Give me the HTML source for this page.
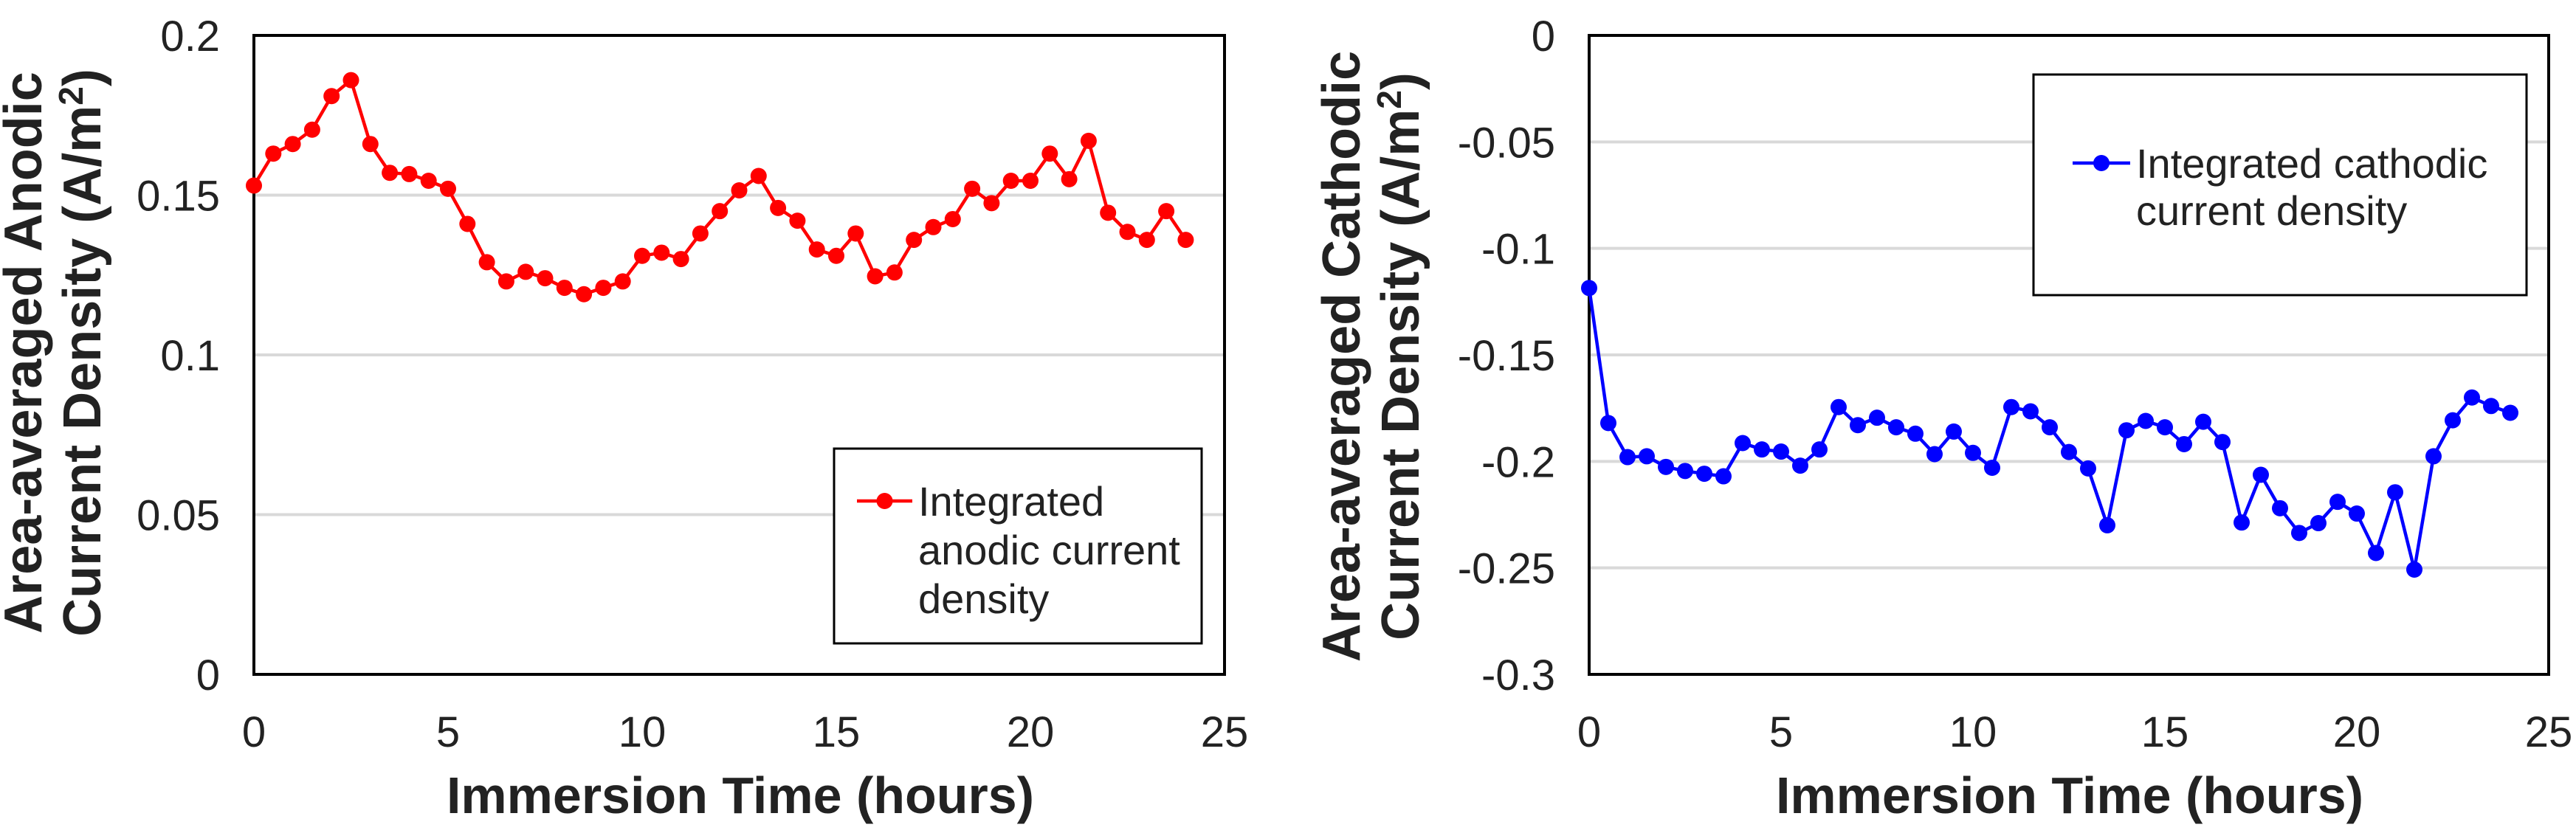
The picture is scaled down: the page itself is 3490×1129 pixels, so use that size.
<!DOCTYPE html>
<html><head><meta charset="utf-8"><style>
html,body{margin:0;padding:0;background:#fff;}
svg{display:block;font-family:"Liberation Sans",Arial,sans-serif;}
</style></head><body>
<svg id="c" width="3490" height="1129" viewBox="0 0 3490 1129" xmlns="http://www.w3.org/2000/svg"></svg>
<script>
const hours = [0,0.5,1,1.5,2,2.5,3,3.5,4,4.5,5,5.5,6,6.5,7,7.5,8,8.5,9,9.5,10,10.5,11,11.5,12,12.5,13,13.5,14,14.5,15,15.5,16,16.5,17,17.5,18,18.5,19,19.5,20,20.5,21,21.5,22,22.5,23,23.5,24];
const anodic = [0.153,0.163,0.166,0.1705,0.181,0.186,0.166,0.157,0.1566,0.1545,0.152,0.141,0.129,0.123,0.126,0.124,0.121,0.119,0.121,0.123,0.131,0.132,0.130,0.138,0.145,0.1515,0.156,0.146,0.142,0.133,0.131,0.138,0.1246,0.1258,0.136,0.140,0.1425,0.152,0.1475,0.1545,0.1545,0.163,0.155,0.167,0.1445,0.1385,0.136,0.145,0.136];
const cathodic = [-0.1186,-0.182,-0.198,-0.1976,-0.2026,-0.2045,-0.2058,-0.207,-0.1914,-0.1944,-0.1954,-0.202,-0.1944,-0.1745,-0.183,-0.1795,-0.184,-0.187,-0.1966,-0.186,-0.196,-0.203,-0.1745,-0.1765,-0.184,-0.1956,-0.2033,-0.230,-0.1854,-0.181,-0.184,-0.1919,-0.1814,-0.1909,-0.2287,-0.2063,-0.222,-0.2336,-0.229,-0.219,-0.2245,-0.243,-0.2145,-0.2508,-0.1976,-0.1807,-0.170,-0.174,-0.1772];
const xTicks = [0,5,10,15,20,25];
const yTicksA = [0,0.05,0.1,0.15,0.2];
const yTicksC = [-0.3,-0.25,-0.2,-0.15,-0.1,-0.05,0];

const NS="http://www.w3.org/2000/svg";
const svg=document.getElementById('c');
function el(tag,attrs,parent){const e=document.createElementNS(NS,tag);for(const k in attrs)e.setAttribute(k,attrs[k]);(parent||svg).appendChild(e);return e;}

function chart(cfg){
  const g=el('g',{});
  
  
  const sx=v=>cfg.x0+(v-0)/(25-0)*(cfg.x1-cfg.x0);
  const sy=v=>cfg.y1-(v-cfg.ymin)/(cfg.ymax-cfg.ymin)*(cfg.y1-cfg.y0);
  cfg.yTicks.forEach(t=>{
    if(t!==cfg.ymin && t!==cfg.ymax){
      const l=el('line',{x1:cfg.x0,x2:cfg.x1,y1:sy(t),y2:sy(t),stroke:'#d9d9d9','stroke-width':4},g);
      
      
    }
    const tx=el('text',{x:cfg.x0-46,y:sy(t)+21,'text-anchor':'end','font-size':58,fill:'#222'},g);
    tx.textContent=String(t);
    
    
  });
  xTicks.forEach(t=>{
    const tx=el('text',{x:sx(t),y:cfg.y1+98,'text-anchor':'middle','font-size':58,fill:'#222'},g);
    tx.textContent=String(t);
    
    
  });
  const box=el('rect',{x:cfg.x0,y:cfg.y0,width:cfg.x1-cfg.x0,height:cfg.y1-cfg.y0,fill:'none',stroke:'#000','stroke-width':4},g);
  
  
  const pts=hours.map((h,i)=>sx(h)+','+sy(cfg.data[i])).join(' ');
  const pl=el('polyline',{points:pts,fill:'none',stroke:cfg.color,'stroke-width':4.5},g);
  
  
  hours.forEach((h,i)=>{
    const c=el('circle',{cx:sx(h),cy:sy(cfg.data[i]),r:11,fill:cfg.color},g);
    
    
  });
  const xt=el('text',{x:cfg.xtx,y:1102,'text-anchor':'middle','font-size':70,'font-weight':'bold',fill:'#222'},g);
  xt.textContent='Immersion Time (hours)';
  
  
  const yt=el('text',{transform:`translate(${cfg.ytx},${cfg.yty}) rotate(-90)`,'text-anchor':'middle','font-size':72,'font-weight':'bold',fill:'#222'},g);
  
  
  const t1=el('tspan',{x:0,y:0},yt);t1.textContent=cfg.ytitle1;
  const t2=el('tspan',{x:0,dy:80},yt);t2.innerHTML='Current Density (A/m<tspan dy="-24" font-size="46">2</tspan><tspan dy="24">)</tspan>';
  const L=cfg.leg;
  const lg=el('g',{},g);
  
  
  el('rect',{x:L.x,y:L.y,width:L.w,height:L.h,fill:'#fff',stroke:'#000','stroke-width':3},lg);
  el('line',{x1:L.lx1,x2:L.lx2,y1:L.ly,y2:L.ly,stroke:cfg.color,'stroke-width':4.5},lg);
  el('circle',{cx:(L.lx1+L.lx2)/2,cy:L.ly,r:11,fill:cfg.color},lg);
  L.lines.forEach((s,i)=>{
    const t=el('text',{x:L.tx,y:L.ly+20+i*L.dy,'font-size':56,fill:'#222'},lg);
    t.textContent=s;
    
    
  });
}
chart({name:'anodic-chart',x0:344,x1:1659,y0:48,y1:914,ymin:0,ymax:0.2,yTicks:yTicksA,data:anodic,color:'#ff0000',
  xtx:1003,ytx:56,yty:478,ytitle1:'Area-averaged Anodic',
  leg:{x:1130,y:608,w:498,h:264,lx1:1161,lx2:1236,ly:679,tx:1244,dy:66,lines:['Integrated','anodic current','density']}});
chart({name:'cathodic-chart',x0:2153,x1:3453,y0:48,y1:914,ymin:-0.3,ymax:0,yTicks:yTicksC,data:cathodic,color:'#0000ff',
  xtx:2804,ytx:1842,yty:483,ytitle1:'Area-averaged Cathodic',
  leg:{x:2755,y:101,w:668,h:299,lx1:2808,lx2:2886,ly:221,tx:2894,dy:64,lines:['Integrated cathodic','current density']}});
</script>
</body></html>
